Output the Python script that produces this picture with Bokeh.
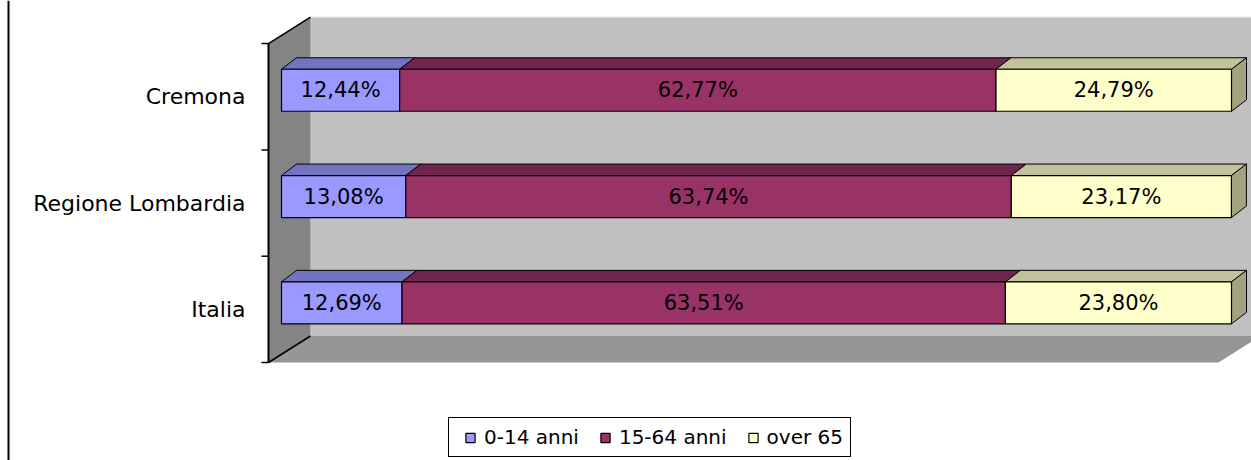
from bokeh.plotting import figure
from bokeh.models import Range1d, Legend, LegendItem
from bokeh.core.properties import value
from bokeh.embed import file_html
from bokeh.resources import INLINE

# ---- data ----
categories = ["Cremona", "Regione Lombardia", "Italia"]
series_names = ["0-14 anni", "15-64 anni", "over 65"]
age_0_14 = [12.44, 13.08, 12.69]
age_15_64 = [62.77, 63.74, 63.51]
age_over_65 = [24.79, 23.17, 23.80]

front_colors = ["#9999FF", "#993366", "#FFFFCC"]
top_colors = ["#7373BF", "#70264C", "#C2C29C"]
side_color = "#A3A381"

W, H = 1251, 460
X0, Y0 = 268, 96.25        # pixel position of 0% and of first category
PX_X, PX_Y = 9.5, 106.3    # pixels per percent / per category


def ox(px):
    return px / PX_X


def oy(px):
    return px / PX_Y


p = figure(width=W, height=H, output_backend="svg", toolbar_location=None,
           x_range=Range1d(-X0 / PX_X, (W - X0) / PX_X),
           y_range=Range1d((H - Y0) / PX_Y, -Y0 / PX_Y),
           x_axis_type=None, y_axis_type=None, min_border=0,
           background_fill_color="white", border_fill_color="white",
           outline_line_color=None)
p.grid.visible = False

n = len(categories)
ytop, ybot = -0.5, n - 0.5
DX, DY = ox(42), oy(26.5)

# walls
p.quad(left=[DX], right=[100 + DX], top=[ytop - DY], bottom=[ybot - DY],
       fill_color="#C0C0C0", line_color=None)
p.patch(x=[0, DX, DX, 0], y=[ytop, ytop - DY, ybot - DY, ybot],
        fill_color="#848484", line_color=None)
p.patch(x=[0, DX, 100 + DX, 100], y=[ybot, ybot - DY, ybot - DY, ybot],
        fill_color="#969696", line_color=None)
p.line(x=[DX, 100 + DX], y=[ytop - DY, ytop - DY], line_color="#E6E6E6", line_width=1)
p.segment(x0=[0, 0], y0=[ytop, ybot], x1=[DX, DX], y1=[ytop - DY, ybot - DY],
          line_color="black", line_width=1.5)

# axis
p.line(x=[0, 0], y=[ytop, ybot], line_color="black", line_width=2)
ticks = [ytop + k for k in range(n + 1)]
p.segment(x0=[0] * len(ticks), y0=ticks, x1=[ox(-7)] * len(ticks), y1=ticks,
          line_color="black", line_width=1.5)
p.text(x=[ox(-23)] * n, y=list(range(n)), text=categories,
       text_font=value("DejaVu Sans"), text_font_size="22px",
       text_align="right", text_baseline="middle", text_color="black")

# left chart border
p.line(x=[ox(8 - X0)] * 2, y=[(H - Y0) / PX_Y, -Y0 / PX_Y], line_color="black", line_width=2)

# bars
series = [age_0_14, age_15_64, age_over_65]
fx, fy = ox(13), oy(-6.5)      # front face depth offset
half = oy(21)
bdx, bdy = ox(15), oy(11.5)    # bar depth

ycent = [i + fy for i in range(n)]
tops = [c - half for c in ycent]
bots = [c + half for c in ycent]
cum = [0.0] * n
for s, vals in enumerate(series):
    lefts = [cum[i] + fx for i in range(n)]
    rights = [cum[i] + vals[i] + fx for i in range(n)]
    cum = [cum[i] + vals[i] for i in range(n)]
    # top faces
    p.patches(xs=[[lefts[i], rights[i], rights[i] + bdx, lefts[i] + bdx] for i in range(n)],
              ys=[[tops[i], tops[i], tops[i] - bdy, tops[i] - bdy] for i in range(n)],
              fill_color=top_colors[s], line_color="black", line_width=1)
    if s == len(series) - 1:
        p.patches(xs=[[rights[i], rights[i] + bdx, rights[i] + bdx, rights[i]] for i in range(n)],
                  ys=[[tops[i], tops[i] - bdy, bots[i] - bdy, bots[i]] for i in range(n)],
                  fill_color=side_color, line_color="black", line_width=1)
    p.quad(left=lefts, right=rights, top=tops, bottom=bots,
           fill_color=front_colors[s], line_color="black", line_width=1.2)
    labels = [f"{v:.2f}%".replace(".", ",") for v in vals]
    p.text(x=[(lefts[i] + rights[i]) / 2 for i in range(n)], y=ycent, text=labels,
           text_font=value("DejaVu Sans"), text_font_size="21px",
           text_align="center", text_baseline="middle", text_color="black")

# legend (marker renderers placed outside the visible range)
items = []
for s, name in enumerate(series_names):
    r = p.scatter(x=[-1000], y=[0], marker="square", size=9,
                  fill_color=front_colors[s], line_color="black", line_width=1.2)
    items.append(LegendItem(label=name, renderers=[r]))
legend = Legend(items=items, location=(448, 3), orientation="horizontal",
                padding=7, spacing=12, margin=0, label_standoff=0,
                glyph_width=28, glyph_height=23, label_height=20,
                label_text_font="DejaVu Sans", label_text_font_size="20px",
                label_text_color="black",
                border_line_color="black", border_line_width=1.5, border_line_alpha=1,
                background_fill_color="white", background_fill_alpha=1)
p.add_layout(legend, "center")

open("out.html", "w").write(file_html(p, INLINE))
